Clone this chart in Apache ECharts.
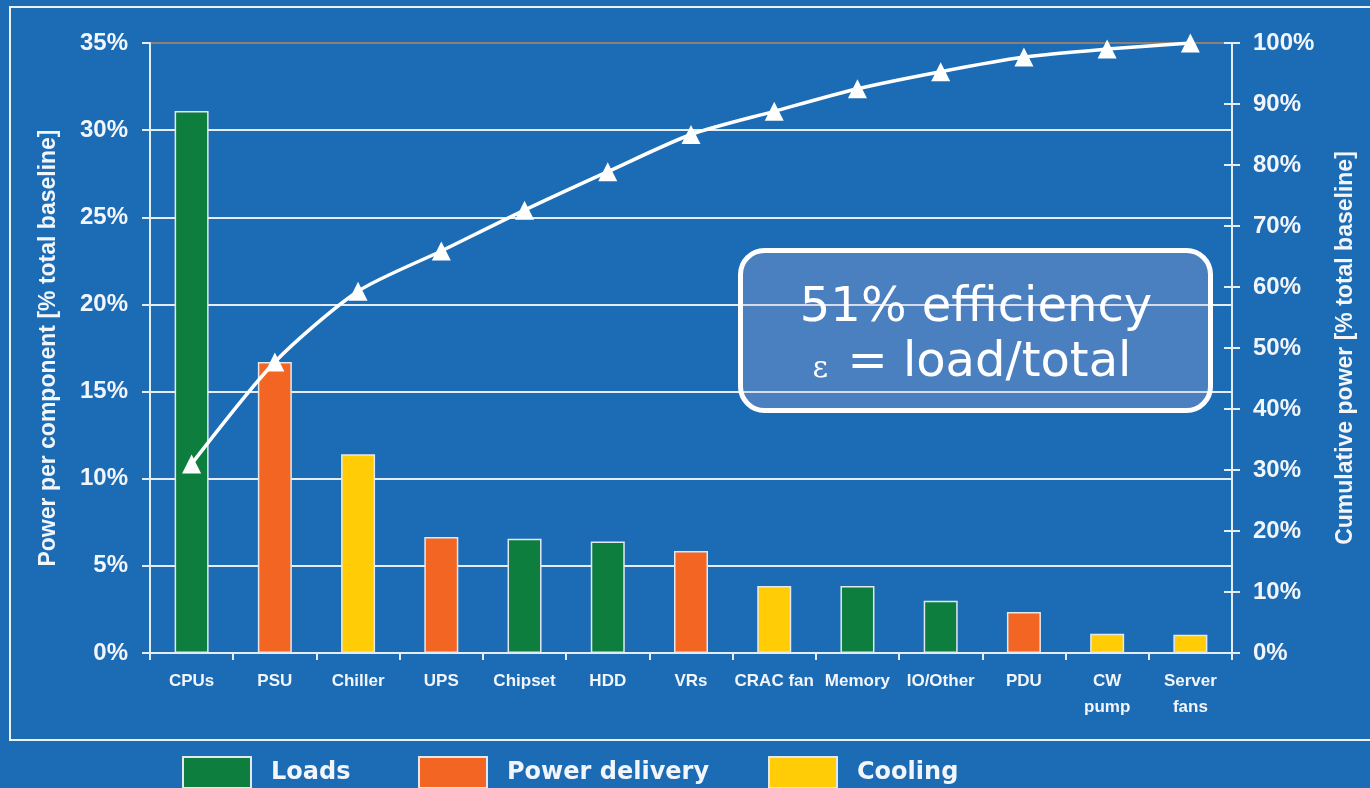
<!DOCTYPE html>
<html>
<head>
<meta charset="utf-8">
<script src="https://cdn.jsdelivr.net/npm/echarts@6/dist/echarts.min.js"></script>
<style>
html,body{margin:0;padding:0;background:#1C6BB5;}
#chart{width:1370px;height:788px;}
</style>
</head>
<body>
<div id="chart"></div>
<script>
const categories = ['CPUs','PSU','Chiller','UPS','Chipset','HDD','VRs','CRAC fan','Memory','IO/Other','PDU','CW\npump','Server\nfans'];
const componentShare = [31.1, 16.7, 11.4, 6.65, 6.55, 6.4, 5.85, 3.85, 3.85, 3.0, 2.35, 1.1, 1.05];
const componentGroup = ['Loads','Power delivery','Cooling','Power delivery','Loads','Loads','Power delivery','Cooling','Loads','Loads','Power delivery','Cooling','Cooling'];
const cumulativeShare = [31.0, 47.7, 59.3, 65.9, 72.6, 78.9, 85.0, 88.8, 92.5, 95.3, 97.7, 99.0, 100];
const groupNames = ['Loads','Power delivery','Cooling'];
const groupColors = ['#0E7E3E','#F26522','#FFCC05'];
const leftTicks = {min:0, max:35, interval:5};
const rightTicks = {min:0, max:100, interval:10};
const boxLine1 = '51% efficiency';
const boxLine2 = '{e|\u03b5} = load/total';

const chart = echarts.init(document.getElementById('chart'));
const txt = '#F2F5FA';
const axisFont = 'Liberation Sans, Arial, sans-serif';

const barSeries = groupNames.map((g, gi) => ({
  name: g,
  type: 'bar',
  stack: 'comp',
  barWidth: 34,
  yAxisIndex: 0,
  itemStyle: {color: groupColors[gi], borderColor: '#E3E8EF', borderWidth: 1.5},
  data: componentShare.map((v, i) => componentGroup[i] === g ? v : '-'),
  z: 4
}));

const legendLefts = [182, 418, 768];
const legends = groupNames.map((g, gi) => ({
  data: [g],
  left: legendLefts[gi],
  top: 756,
  padding: 0,
  itemWidth: 68,
  itemHeight: 31,
  icon: 'rect',
  selectedMode: false,
  itemStyle: {borderColor: '#E3E8EF', borderWidth: 2},
  textStyle: {color: txt, fontSize: 24, fontWeight: 'bold', fontFamily: 'DejaVu Sans', padding: [0,0,0,15]}
}));

const option = {
  backgroundColor: '#1C6BB5',
  animation: false,
  grid: {left: 150, right: 138, top: 43, bottom: 135},
  legend: legends,
  xAxis: {
    type: 'category',
    data: categories,
    axisLine: {lineStyle: {color: '#E6ECF3', width: 2}},
    axisTick: {show: true, interval: 0, alignWithLabel: false, length: 7, lineStyle: {color: '#E6ECF3', width: 2}},
    axisLabel: {interval: 0, color: txt, fontSize: 17, fontWeight: 'bold', fontFamily: axisFont, margin: 15, lineHeight: 26}
  },
  yAxis: [
    {
      type: 'value', position: 'left', min: leftTicks.min, max: leftTicks.max, interval: leftTicks.interval,
      name: 'Power per component [% total baseline]', nameLocation: 'middle', nameGap: 90,
      nameTextStyle: {color: txt, fontSize: 23, fontWeight: 'bold', fontFamily: axisFont},
      axisLine: {show: true, lineStyle: {color: '#E6ECF3', width: 2}},
      axisTick: {show: true, length: 8, lineStyle: {color: '#E6ECF3', width: 2}},
      axisLabel: {color: txt, fontSize: 24, fontWeight: 'bold', fontFamily: axisFont, margin: 22, formatter: '{value}%'},
      splitLine: {show: true, lineStyle: {width: 2, color: ['#E6ECF3','#E6ECF3','#E6ECF3','#E6ECF3','#E6ECF3','#E6ECF3','#E6ECF3','#8E7F70']}}
    },
    {
      type: 'value', position: 'right', min: rightTicks.min, max: rightTicks.max, interval: rightTicks.interval,
      name: 'Cumulative power [% total baseline]', nameLocation: 'middle', nameGap: 102, nameRotate: 90,
      nameTextStyle: {color: txt, fontSize: 23, fontWeight: 'bold', fontFamily: axisFont},
      axisLine: {show: true, lineStyle: {color: '#E6ECF3', width: 2}},
      axisTick: {show: true, length: 8, lineStyle: {color: '#E6ECF3', width: 2}},
      axisLabel: {color: txt, fontSize: 24, fontWeight: 'bold', fontFamily: axisFont, margin: 21, formatter: '{value}%'},
      splitLine: {show: false}
    },
    {
      type: 'value', position: 'right', min: rightTicks.min, max: rightTicks.max, interval: rightTicks.interval,
      axisLine: {show: false},
      axisTick: {show: true, inside: true, length: 8, lineStyle: {color: '#E6ECF3', width: 2}},
      axisLabel: {show: false},
      splitLine: {show: false}
    }
  ],
  series: barSeries.concat([{
    name: 'Cumulative',
    type: 'line',
    yAxisIndex: 1,
    data: cumulativeShare,
    smooth: 0.25,
    symbol: 'triangle',
    symbolSize: [19, 19],
    lineStyle: {color: '#FFFFFF', width: 3.5},
    itemStyle: {color: '#FFFFFF'},
    z: 6
  }]),
  graphic: [
    {type: 'rect', z: 100, shape: {x: 10, y: 7, width: 1380, height: 733}, style: {stroke: '#EEF2F7', lineWidth: 2, fill: null}, silent: true},
    {type: 'rect', z: 1, shape: {x: 740.5, y: 250.5, width: 470, height: 160, r: 24}, style: {fill: 'rgba(181,177,218,0.3)', stroke: '#FFFFFF', lineWidth: 5}},
    {type: 'text', z: 1, x: 976, y: 309, style: {text: boxLine1, fill: '#FFFFFF', font: '48px "DejaVu Sans"', textAlign: 'center', textVerticalAlign: 'middle'}},
    {type: 'text', z: 1, x: 972, y: 364, style: {text: boxLine2, fill: '#FFFFFF', font: '48px "DejaVu Sans"', textAlign: 'center', textVerticalAlign: 'middle',
      rich: {e: {fontSize: 30, fontFamily: 'DejaVu Serif', fill: '#FFFFFF', padding: [10,4,0,0]}}}}
  ]
};
chart.setOption(option);
</script>
</body>
</html>
